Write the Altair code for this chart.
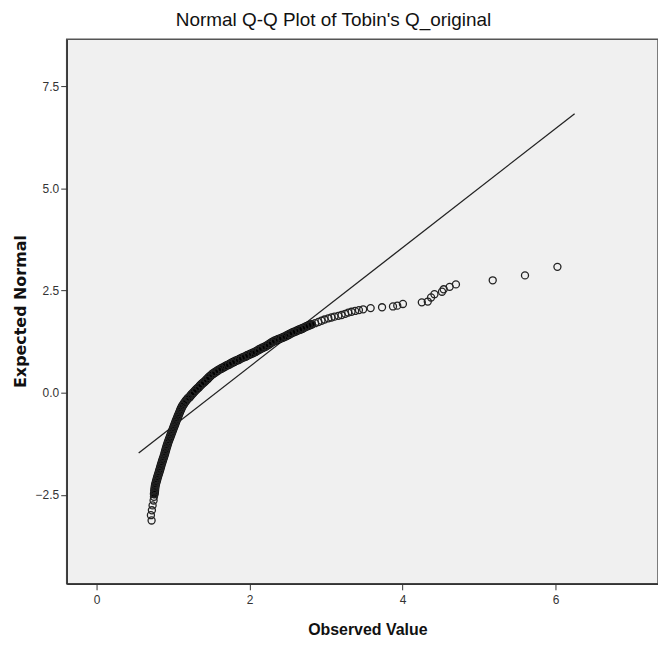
import altair as alt
import pandas as pd

observed = [
    0.719, 0.710, 0.723, 0.732, 0.745,
    0.750, 0.754, 0.758, 0.761, 0.765, 0.771, 0.780, 0.789, 0.798, 0.808,
    0.818, 0.828, 0.837, 0.846, 0.856, 0.866, 0.877, 0.887, 0.896, 0.905,
    0.914, 0.924, 0.934, 0.946, 0.958, 0.970, 0.982, 0.994, 1.006, 1.018,
    1.030, 1.042, 1.055, 1.068, 1.081, 1.094, 1.108, 1.125, 1.145, 1.168,
    1.195,
    1.209, 1.24, 1.27, 1.30, 1.339, 1.37, 1.40, 1.44, 1.47, 1.512,
    1.55, 1.59, 1.63, 1.687, 1.73, 1.77, 1.81, 1.86, 1.90, 1.94,
    1.98, 2.03, 2.077, 2.12, 2.16, 2.207, 2.25, 2.29, 2.33, 2.38,
    2.423, 2.47, 2.52, 2.56, 2.60, 2.65, 2.69, 2.73, 2.77, 2.81,
    2.857, 2.90, 2.94, 2.98, 3.03, 3.07, 3.11, 3.16, 3.203, 3.25,
    3.29, 3.333, 3.38, 3.43, 3.485,
    3.583, 3.732, 3.875, 3.931, 4.005, 4.252, 4.330, 4.373, 4.417, 4.516,
    4.538, 4.616, 4.698, 5.179, 5.601, 6.025,
]
expected = [
    -3.13, -3.00, -2.88, -2.76, -2.64,
    -2.55, -2.48, -2.42, -2.36, -2.30, -2.24, -2.18, -2.12, -2.06, -2.00,
    -1.94, -1.88, -1.82, -1.76, -1.70, -1.64, -1.58, -1.52, -1.46, -1.40,
    -1.34, -1.28, -1.22, -1.16, -1.10, -1.04, -0.98, -0.92, -0.86, -0.80,
    -0.74, -0.68, -0.62, -0.56, -0.50, -0.44, -0.38, -0.32, -0.26, -0.20,
    -0.14,
    -0.12, -0.05, 0.01, 0.07, 0.14, 0.20, 0.25, 0.32, 0.38, 0.45,
    0.50, 0.55, 0.59, 0.65, 0.69, 0.73, 0.77, 0.81, 0.85, 0.88,
    0.92, 0.96, 1.00, 1.05, 1.09, 1.13, 1.18, 1.23, 1.27, 1.31,
    1.34, 1.38, 1.43, 1.47, 1.50, 1.54, 1.57, 1.61, 1.64, 1.67,
    1.70, 1.73, 1.76, 1.79, 1.82, 1.84, 1.86, 1.88, 1.90, 1.93,
    1.96, 1.98, 2.00, 2.02, 2.04,
    2.07, 2.09, 2.11, 2.13, 2.17, 2.21, 2.23, 2.33, 2.41, 2.47,
    2.53, 2.59, 2.65, 2.75, 2.87, 3.08,
]
# the packed stretch of the cloud (where the circles overlap into a solid band)
dense_from, dense_to = 6, 86

# Reference line end points
line_x = [0.55, 6.25]
line_y = [-1.48, 6.83]

x_ticks = [0, 2, 4, 6]
y_ticks = [-2.5, 0.0, 2.5, 5.0, 7.5]

pts = pd.DataFrame({"obs": observed, "exp": expected, "order": range(len(observed))})
dense = pts.iloc[dense_from:dense_to]
ln = pd.DataFrame({"obs": line_x, "exp": line_y})

NARROW = "Liberation Sans Narrow, Arial Narrow, Liberation Sans, Arial, sans-serif"

xscale = alt.Scale(domain=[-0.391, 7.34], nice=False, zero=False)
yscale = alt.Scale(domain=[-4.68, 8.65], nice=False, zero=False)

xaxis = alt.Axis(
    title="Observed Value", values=x_ticks, format="d", grid=False,
    tickSize=6, tickColor="#333", domainColor="#333", domainWidth=1.5,
    labelFont=NARROW, labelFontSize=12, labelColor="#333", labelPadding=5,
    titleFont=NARROW, titleFontSize=16, titleFontWeight="bold", titleColor="#111",
    titleY=46, titleBaseline="middle", titleX=302,
)
yaxis = alt.Axis(
    title="Expected Normal", values=y_ticks, format=".1f", grid=False,
    tickSize=6, tickColor="#333", domainColor="#333", domainWidth=1.5,
    labelFont=NARROW, labelFontSize=12, labelColor="#333", labelPadding=2,
    titleFont="DejaVu Sans", titleFontSize=16, titleFontWeight="bold", titleColor="#111",
    titleX=-38, titleY=273, titleBaseline="bottom", titleAngle=-90, titleAlign="center",
)

X = alt.X("obs:Q", scale=xscale, axis=xaxis)
Y = alt.Y("exp:Q", scale=yscale, axis=yaxis)

band = alt.Chart(dense).mark_line(
    color="#000", strokeWidth=9, strokeCap="round", strokeJoin="round"
).encode(x=X, y=Y, order="order:Q")

points = alt.Chart(pts).mark_point(
    shape="circle", filled=False, size=50, strokeWidth=1.3, color="#222", opacity=1
).encode(x=X, y=Y)

line = alt.Chart(ln).mark_line(color="#222", strokeWidth=1.3).encode(
    x=alt.X("obs:Q", scale=xscale),
    y=alt.Y("exp:Q", scale=yscale),
)

chart = alt.layer(line, band, points).properties(
    width=594, height=547,
    title=alt.TitleParams(
        "Normal Q-Q Plot of Tobin's Q_original", font=NARROW, fontSize=19,
        fontWeight="normal", color="#111", anchor="middle", dx=-29, offset=9,
    ),
    autosize=alt.AutoSizeParams(type="none"),
    padding={"left": 67, "top": 38, "right": 0, "bottom": 62},
    background="white",
).configure_view(
    fill="#F0F0F0", stroke="#555", strokeWidth=1.5
)

chart.save("out.html", embed_options={"renderer": "svg", "actions": False})
